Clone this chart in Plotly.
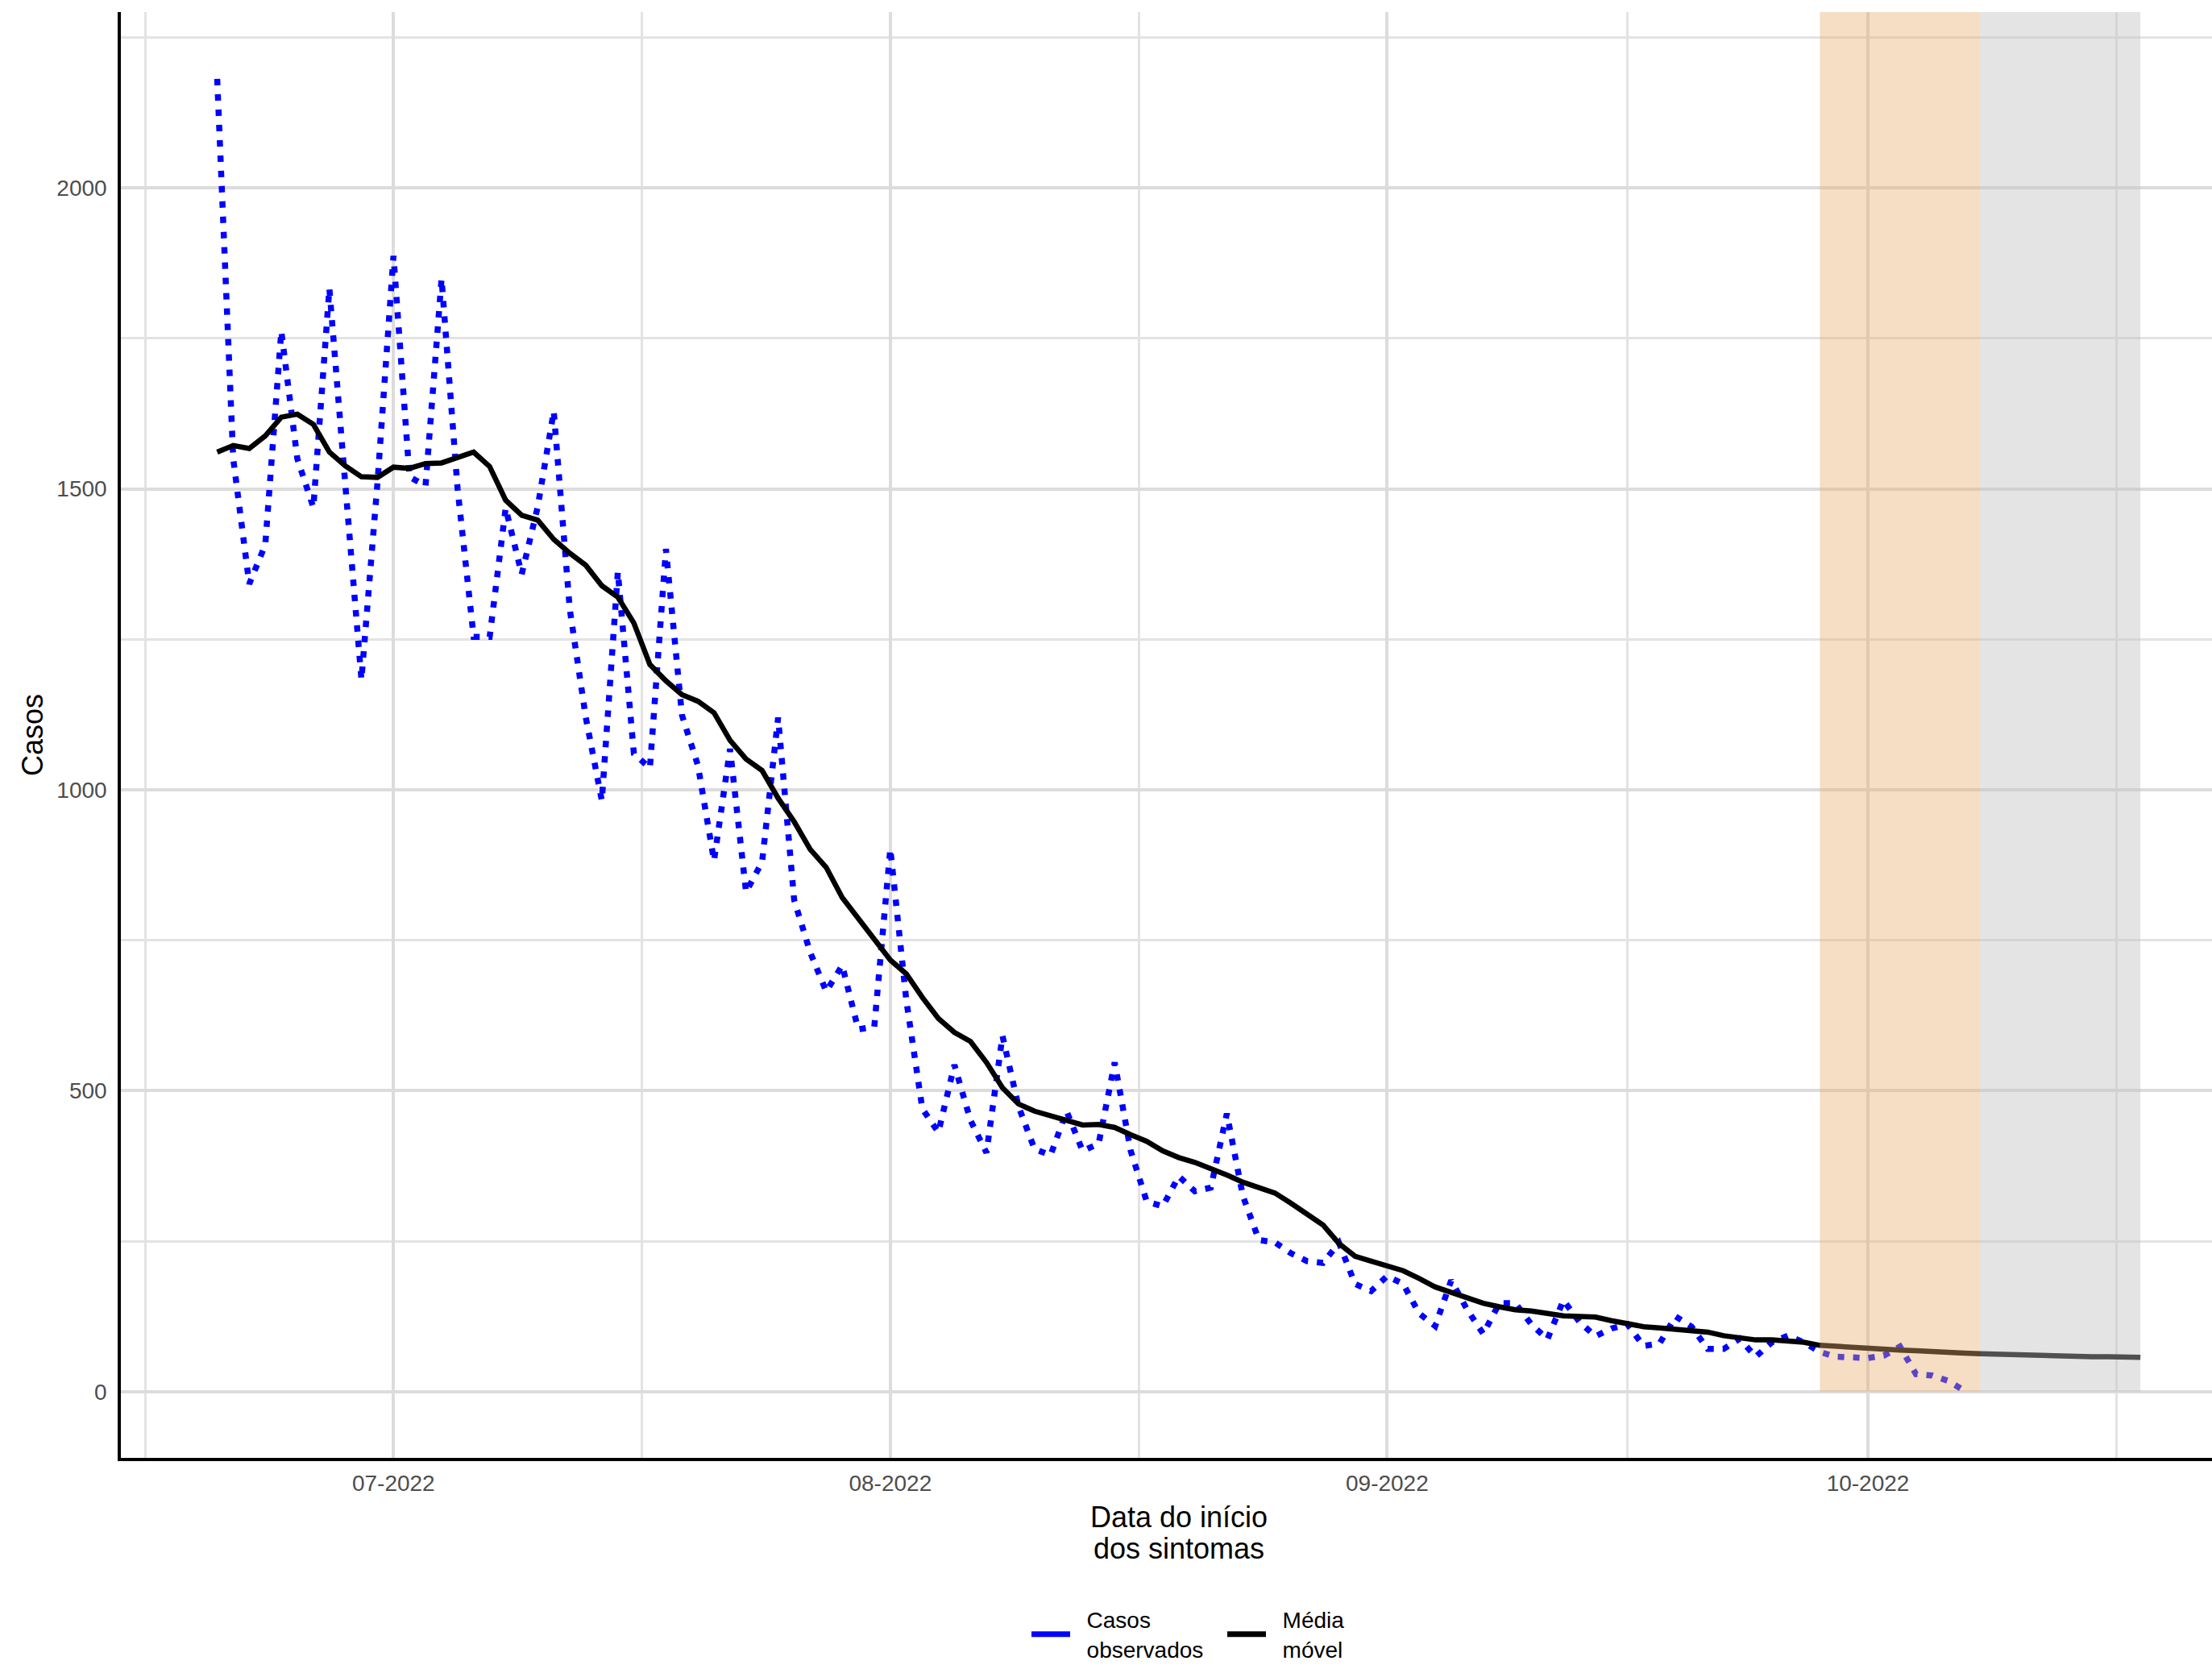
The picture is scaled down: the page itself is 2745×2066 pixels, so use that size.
import pandas as pd
import plotly.graph_objects as go

# ---------------- data ----------------
start_date = "2022-06-20"

casos_observados = [
    2181, 1550, 1342, 1407, 1762, 1550, 1469, 1833, 1505, 1183,
    1510, 1887, 1520, 1505, 1849, 1500, 1254, 1254, 1468, 1358,
    1470, 1629, 1300, 1120, 982, 1362, 1060, 1036, 1400, 1124,
    1040, 882, 1068, 830, 880, 1120, 817, 730, 665, 708,
    602, 606, 902, 650, 470, 431, 543, 451, 397, 591,
    474, 403, 393, 466, 400, 412, 547, 400, 316, 308,
    358, 333, 339, 462, 325, 252, 248, 230, 217, 214,
    247, 179, 167, 192, 179, 130, 109, 185, 136, 96,
    147, 147, 112, 87, 152, 116, 92, 105, 112, 76,
    80, 125, 108, 71, 71, 88, 58, 82, 93, 82,
    66, 58, 57, 56, 60, 75, 29, 27, 18, 2,
]

media_movel = [
    1561, 1572, 1567, 1588, 1619, 1624, 1607, 1561, 1538, 1520,
    1519, 1536, 1534, 1542, 1543, 1551, 1561, 1537, 1481, 1456,
    1448, 1416, 1393, 1373, 1339, 1320, 1277, 1208, 1181, 1158,
    1147, 1128, 1082, 1051, 1032, 986, 947, 901, 871, 821,
    786, 750, 717, 694, 655, 620, 597, 582, 547, 505,
    478, 466, 458, 451, 443, 444, 439, 427, 416, 400,
    389, 381, 371, 360, 348, 339, 330, 313, 295, 277,
    246, 225, 217, 210, 201, 188, 174, 165, 156, 147,
    141, 136, 134, 130, 126, 125, 124, 118, 113, 108,
    106, 104, 101, 99, 93, 90, 86, 86, 84, 82,
    77, 75, 73, 72, 71, 69, 68, 66, 65, 64,
    63, 62, 61, 61, 60, 59, 59, 58, 58, 58,
    57,
]

# shaded periods (start, end)
periodo_laranja = ("2022-09-28", "2022-10-08")
periodo_cinza = ("2022-10-08", "2022-10-18")

x_tick_labels_fmt = "%m-%Y"
y_tick_values = [0, 500, 1000, 1500, 2000]
y_minor_values = [250, 750, 1250, 1750, 2250]
x_minor_values = ["2022-06-15 12:00", "2022-07-16 12:00", "2022-08-16 12:00",
                  "2022-09-16 00:00", "2022-10-16 12:00"]

NB = "\u00a0\u00a0"
legend_labels = [NB + "Casos<br>" + NB + "observados", NB + "Média<br>" + NB + "móvel"]

# ---------------- figure ----------------
dates_obs = pd.date_range(start_date, periods=len(casos_observados), freq="D")
dates_mm = pd.date_range(start_date, periods=len(media_movel), freq="D")

FONT = "Liberation Sans, Arial, sans-serif"
Y_MIN, Y_MAX = -110, 2292
base = pd.Timestamp("2022-07-01")
x_range = [base + pd.Timedelta(days=-17.01), base + pd.Timedelta(days=113.47)]

fig = go.Figure()

fig.add_trace(go.Scatter(
    x=dates_obs, y=casos_observados, mode="lines",
    line=dict(color="#0000FF", width=7.5, dash="8px,11px"),
    showlegend=False, name="Casos observados",
))
fig.add_trace(go.Scatter(
    x=dates_mm, y=media_movel, mode="lines",
    line=dict(color="#000000", width=6.5),
    showlegend=False, name="Média móvel",
))

# legend keys (solid lines like the reference)
fig.add_trace(go.Scatter(x=[None], y=[None], mode="lines",
                         line=dict(color="#0000FF", width=7),
                         name=legend_labels[0], showlegend=True))
fig.add_trace(go.Scatter(x=[None], y=[None], mode="lines",
                         line=dict(color="#000000", width=7),
                         name=legend_labels[1], showlegend=True))

for (x0, x1), col in [(periodo_laranja, "rgba(230,172,107,0.4)"),
                      (periodo_cinza, "rgba(190,190,190,0.42)")]:
    fig.add_shape(type="rect", xref="x", yref="y", x0=x0, x1=x1,
                  y0=0, y1=Y_MAX, fillcolor=col, line=dict(width=0),
                  layer="above")

fig.update_layout(
    width=2745, height=2066,
    margin=dict(l=150, r=0, t=15, b=257),
    paper_bgcolor="white", plot_bgcolor="white",
    font=dict(family=FONT, color="#000000"),
    legend=dict(
        orientation="h", xref="container", yref="container",
        x=1275 / 2745, xanchor="left", y=0.0185, yanchor="middle",
        font=dict(size=28, family=FONT, color="#000000"),
        itemwidth=48, entrywidth=180, entrywidthmode="pixels",
        tracegroupgap=0, bgcolor="rgba(0,0,0,0)",
    ),
    xaxis=dict(
        type="date", range=x_range,
        tick0="2022-06-01", dtick="M1", tickformat=x_tick_labels_fmt,
        ticks="", tickfont=dict(size=28, color="#4D4D4D", family=FONT),
        showgrid=True, gridcolor="#DCDCDC", gridwidth=3.5,
        minor=dict(tickmode="array", tickvals=x_minor_values,
                   showgrid=True, gridcolor="#E3E3E3", gridwidth=3, ticks=""),
        showline=True, linecolor="#000000", linewidth=3.5,
        zeroline=False, ticklabelstandoff=4,
    ),
    yaxis=dict(
        range=[Y_MIN, Y_MAX],
        tickmode="array", tickvals=y_tick_values,
        ticks="", tickfont=dict(size=28, color="#4D4D4D", family=FONT),
        showgrid=True, gridcolor="#DCDCDC", gridwidth=3.5,
        minor=dict(tickmode="array", tickvals=y_minor_values,
                   showgrid=True, gridcolor="#E3E3E3", gridwidth=3, ticks=""),
        showline=True, linecolor="#000000", linewidth=3.5,
        zeroline=False, ticklabelstandoff=8,
    ),
    annotations=[
        dict(text="Data do início", xref="paper", yref="paper",
             x=(1463 - 150) / 2595, y=(1809 - 1882) / 1794,
             xanchor="center", yanchor="middle", showarrow=False,
             font=dict(size=36, family=FONT, color="#000000")),
        dict(text="dos sintomas", xref="paper", yref="paper",
             x=(1463 - 150) / 2595, y=(1809 - 1922) / 1794,
             xanchor="center", yanchor="middle", showarrow=False,
             font=dict(size=36, family=FONT, color="#000000")),
        dict(text="Casos", xref="paper", yref="paper",
             x=(40 - 150) / 2595, y=0.5, textangle=-90,
             xanchor="center", yanchor="middle", showarrow=False,
             font=dict(size=36, family=FONT, color="#000000")),
    ],
)

fig.write_html(
    "out.html",
    config={"displayModeBar": False},
    post_script="document.body.style.margin='0';document.body.style.overflow='hidden';",
)
